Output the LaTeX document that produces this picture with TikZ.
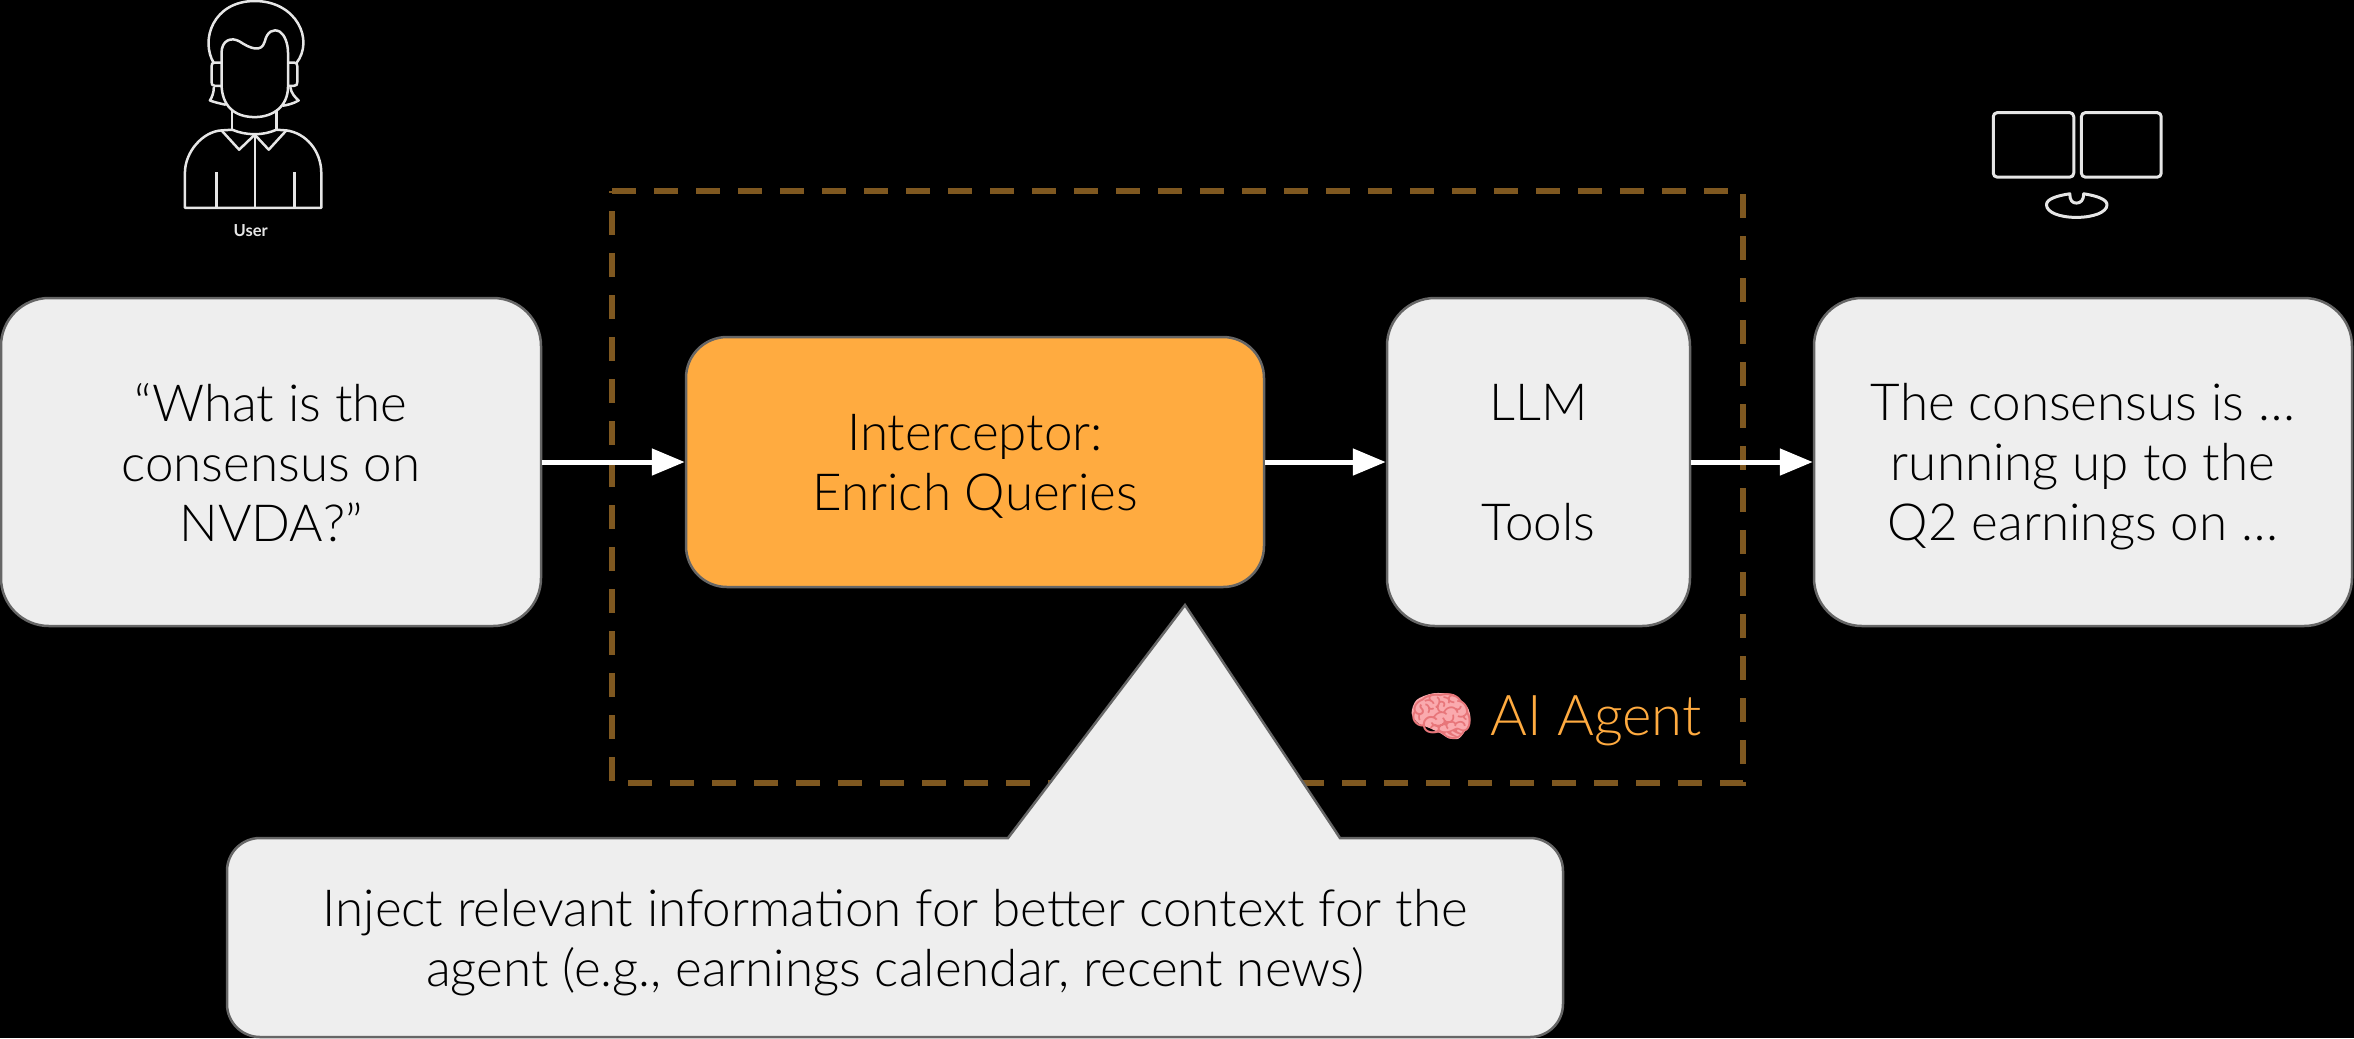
\documentclass[tikz,border=0pt]{standalone}
\usepackage{fontspec}
\setmainfont{Lato Light}[BoldFont = Lato Bold]
\newfontfamily\emojifont{Noto Emoji}
\usepackage{xcolor}
\definecolor{light_orange}{RGB}{255,171,64}
\definecolor{dash_brown}{RGB}{127,88,32}
\definecolor{box_gray}{RGB}{238,238,238}
\definecolor{edge_gray}{RGB}{102,102,102}
\definecolor{icon_gray}{RGB}{230,230,230}
\definecolor{brain_pink}{RGB}{250,170,174}
\definecolor{brain_red}{RGB}{232,118,122}
\usepackage{tikz}
\usetikzlibrary{arrows.meta}
\tikzset{
  textbox/.style = {draw = edge_gray, line width = 0.025cm, fill = box_gray, rounded corners = 0.48cm, align = center, inner sep = 0pt, text depth = 0pt, font = \fontsize{14.55}{17.07}\selectfont},
  flowarrow/.style = {draw = white, line width = 0.05cm, -{Triangle[length = 0.33cm, width = 0.26cm]}},
  iconline/.style = {draw = icon_gray, line width = 0.025cm, line join = round}
}

\begin{document}
\begin{tikzpicture}[y = -1cm]
\fill [black] (0, 0) rectangle (23.54, 10.38);
\useasboundingbox (0, 0) rectangle (23.54, 10.38);

\draw [draw = dash_brown, line width = 0.055cm, dash pattern = on 0.24cm off 0.18cm] (6.12, 1.91) -- (17.43, 1.91) -- (17.43, 7.83) -- (6.12, 7.83) -- cycle;

\draw (2.71, 4.62) node (query) [textbox, minimum width = 5.40cm, minimum height = 3.28cm] {``What is the\\consensus on\\NVDA?''};
\draw (9.75, 4.62) node (interceptor) [textbox, fill = light_orange, rounded corners = 0.41cm, minimum width = 5.78cm, minimum height = 2.5cm] {Interceptor:\\Enrich Queries};
\draw (15.385, 4.62) node (llm) [textbox, minimum width = 3.03cm, minimum height = 3.28cm] {LLM\\[17.07pt]Tools};
\draw (20.83, 4.62) node (answer) [textbox, minimum width = 5.38cm, minimum height = 3.28cm] {The consensus is \ldots\\running up to the\\Q2 earnings on \ldots};

\draw [flowarrow] (query.east) -- (interceptor.west);
\draw [flowarrow] (interceptor.east) -- (llm.west);
\draw [flowarrow] (llm.east) -- (answer.west);

\begin{scope}[shift = {(13.8, 6.6)}, x = 0.003333cm, y = -0.003333cm]
\fill [brain_pink] plot [smooth cycle] coordinates {(95, 160) (110, 120) (160, 100) (220, 105) (262, 140) (272, 180) (255, 215) (235, 237) (205, 235) (185, 222) (150, 205) (115, 190)};
\end{scope}
\draw (14.42, 7.16) node (brain) {\fontsize{15}{15}\emojifont\color{brain_red}🧠};
\draw (15.96, 7.16) node (agent) [text depth = 0pt] {\fontsize{16}{18}\selectfont\color{light_orange}AI Agent};

\draw [draw = edge_gray, fill = box_gray, line width = 0.025cm] (13.40, 8.38) -- (11.85, 6.05) -- (10.08, 8.38) [rounded corners = 0.33cm] -- (2.27, 8.38) -- (2.27, 10.37) -- (15.63, 10.37) -- (15.63, 8.38) [sharp corners] -- cycle;
\draw (8.95, 9.375) node (hint) [align = center, text depth = 0pt, font = \fontsize{14.55}{17.07}\selectfont] {Inject relevant information for better context for the\\agent (e.g., earnings calendar, recent news)};

\begin{scope}[shift = {(1.5, 0)}, x = 0.003333cm, y = -0.003333cm]
\draw [iconline] (192, 190) .. controls (150, 120) and (190, 3) .. (315, 3) .. controls (440, 3) and (495, 120) .. (440, 190);
\draw [iconline] (215, 250) -- (215, 160) .. controls (215, 120) and (245, 110) .. (270, 125) .. controls (300, 145) and (335, 160) .. (345, 125) .. controls (352, 95) and (370, 85) .. (390, 95) .. controls (405, 105) and (415, 130) .. (415, 160) -- (415, 260) .. controls (415, 320) and (370, 352) .. (315, 352) .. controls (255, 352) and (215, 320) .. (215, 250);
\draw [iconline] (215, 188) -- (195, 188) .. controls (187, 188) and (185, 192) .. (185, 200) -- (185, 246) .. controls (185, 254) and (187, 258) .. (195, 258) -- (215, 258);
\draw [iconline] (415, 188) -- (433, 188) .. controls (441, 188) and (443, 192) .. (443, 200) -- (443, 246) .. controls (443, 254) and (441, 258) .. (433, 258) -- (415, 258);
\draw [iconline] (192, 262) .. controls (192, 280) and (185, 295) .. (180, 302) .. controls (195, 308) and (215, 312) .. (228, 315);
\draw [iconline] (422, 262) .. controls (424, 280) and (438, 295) .. (447, 302) .. controls (430, 312) and (412, 316) .. (398, 318);
\draw [iconline] (247, 335) -- (247, 390);
\draw [iconline] (380, 335) -- (380, 390);
\draw [iconline] (105, 625) -- (105, 520) .. controls (105, 455) and (160, 395) .. (215, 392) -- (247, 390) .. controls (290, 408) and (340, 408) .. (380, 390) -- (410, 392) .. controls (470, 400) and (515, 455) .. (515, 520) -- (515, 625) -- cycle;
\draw [iconline] (215, 392) -- (268, 450) -- (315, 405) -- (357, 450) -- (410, 392);
\draw [iconline] (315, 405) -- (315, 625);
\draw [iconline] (200, 518) -- (200, 625);
\draw [iconline] (435, 518) -- (435, 625);
\draw (303, 692) node (user) {\fontsize{4.7}{5}\selectfont\bfseries\color{icon_gray}User};
\end{scope}

\begin{scope}[shift = {(19.6, 0.9)}, x = 0.003333cm, y = -0.003333cm]
\draw [iconline, line width = 0.03cm, rounded corners = 0.04cm] (100, 68) rectangle (342, 262);
\draw [iconline, line width = 0.03cm, rounded corners = 0.04cm] (365, 68) rectangle (605, 262);
\draw [iconline, line width = 0.03cm] (330, 312) .. controls (290, 318) and (260, 328) .. (260, 345) .. controls (260, 368) and (300, 383) .. (350, 383) .. controls (400, 383) and (442, 368) .. (442, 345) .. controls (442, 328) and (410, 318) .. (372, 312) .. controls (372, 332) and (362, 340) .. (350, 340) .. controls (338, 340) and (330, 332) .. (330, 312) -- cycle;
\end{scope}
\end{tikzpicture}
\end{document}
